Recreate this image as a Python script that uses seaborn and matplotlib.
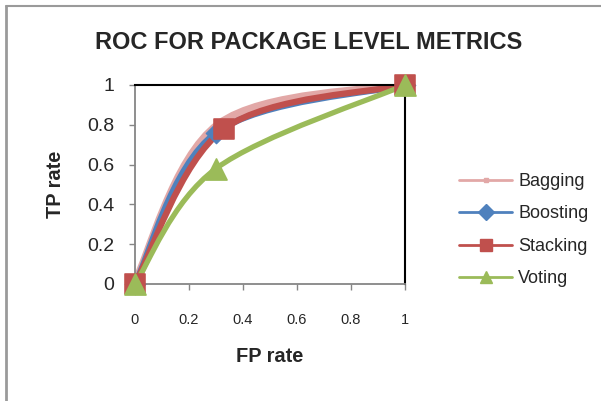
import numpy as np
import pandas as pd
import matplotlib
matplotlib.use("Agg")
import matplotlib.pyplot as plt
import seaborn as sns
from matplotlib.path import Path
from matplotlib.patches import PathPatch
from matplotlib.lines import Line2D

#Values.
methods = ["Bagging", "Boosting", "Stacking", "Voting"]
fp_bagging = [0, 0.31, 1]
tp_bagging = [0, 0.80, 1]
fp_boosting = [0, 0.30, 1]
tp_boosting = [0, 0.76, 1]
fp_stacking = [0, 0.33, 1]
tp_stacking = [0, 0.78, 1]
fp_voting = [0, 0.30, 1]
tp_voting = [0, 0.58, 1]
x_ticks = [0, 0.2, 0.4, 0.6, 0.8, 1]
y_ticks = [0, 0.2, 0.4, 0.6, 0.8, 1]
x_tick_labels = ["0", "0.2", "0.4", "0.6", "0.8", "1"]
y_tick_labels = ["0", "0.2", "0.4", "0.6", "0.8", "1"]

colors = {"Bagging": "#E2A8A7", "Boosting": "#4F81BD", "Stacking": "#C0504D", "Voting": "#9BBB59"}
markers = {"Bagging": "s", "Boosting": "D", "Stacking": "s", "Voting": "^"}
line_w = {"Bagging": 6.5, "Boosting": 4.5, "Stacking": 4.5, "Voting": 3.8}
marker_s = {"Bagging": 0, "Boosting": 110, "Stacking": 210, "Voting": 230}

df = pd.concat([
    pd.DataFrame({"fp": fp_bagging, "tp": tp_bagging, "method": "Bagging"}),
    pd.DataFrame({"fp": fp_boosting, "tp": tp_boosting, "method": "Boosting"}),
    pd.DataFrame({"fp": fp_stacking, "tp": tp_stacking, "method": "Stacking"}),
    pd.DataFrame({"fp": fp_voting, "tp": tp_voting, "method": "Voting"}),
])

#Excel-style smoothed line (bezier through the points).
def smooth_path(xs, ys):
    pts = np.column_stack([xs, ys]).astype(float)
    n = len(pts)
    verts = [pts[0]]
    codes = [Path.MOVETO]
    for i in range(n - 1):
        p_prev = pts[max(i - 1, 0)]
        p0 = pts[i]
        p1 = pts[i + 1]
        p_next = pts[min(i + 2, n - 1)]
        c1 = p0 + (p1 - p_prev) / 6
        c2 = p1 - (p_next - p0) / 6
        verts += [c1, c2, p1]
        codes += [Path.CURVE4] * 3
    return Path(verts, codes)

sns.set_style("white")
plt.rcParams['font.family'] = ['Liberation Sans', 'DejaVu Sans']

fig = plt.figure(figsize=(6.01, 4.01), dpi=100)
ax = fig.add_axes([0.2246, 0.2918, 0.4494, 0.4963])

for m in methods:
    sub = df[df["method"] == m]
    patch = PathPatch(smooth_path(sub["fp"], sub["tp"]), facecolor="none",
                      edgecolor=colors[m], lw=line_w[m], capstyle="round", joinstyle="round", zorder=2)
    ax.add_patch(patch)
    if marker_s[m] > 0:
        sns.scatterplot(data=sub, x="fp", y="tp", marker=markers[m], color=colors[m],
                        edgecolor=colors[m], s=marker_s[m], ax=ax, zorder=3, legend=False, clip_on=False)

ax.set_xlim(0, 1)
ax.set_ylim(0, 1)
ax.set_xticks(x_ticks)
ax.set_xticklabels(x_tick_labels, fontsize=10.5)
ax.set_yticks(y_ticks)
ax.set_yticklabels(y_tick_labels, fontsize=14)
ax.tick_params(axis="x", direction="out", length=4, width=1, color="#868686", pad=17)
ax.tick_params(axis="y", direction="out", length=4, width=1, color="#868686", pad=11)
ax.tick_params(bottom=True, left=True)

for side in ["left", "bottom"]:
    ax.spines[side].set_color("#868686")
    ax.spines[side].set_linewidth(1.3)
for side in ["top", "right"]:
    ax.spines[side].set_color("black")
    ax.spines[side].set_linewidth(1.5)
    ax.spines[side].set_visible(True)

ax.set_xlabel("FP rate", fontsize=14.4, fontweight="bold", labelpad=14)
ax.set_ylabel("TP rate", fontsize=14.4, fontweight="bold", labelpad=16)
fig.text(0.513, 0.895, "ROC FOR PACKAGE LEVEL METRICS", fontsize=17, fontweight="bold",
         ha="center", va="center")

handles = []
for m in methods:
    handles.append(Line2D([0], [0], color=colors[m], lw=2, marker=markers[m],
                          markersize=8 if m != "Bagging" else 3, markerfacecolor=colors[m],
                          markeredgecolor=colors[m]))
fig.legend(handles, methods, loc="center left", bbox_to_anchor=(0.737, 0.426), frameon=False,
           fontsize=13, handlelength=2.95, labelspacing=0.86, handletextpad=0.33)

#Outer chart frame (left and top edges are visible in the reference).
fig.add_artist(Line2D([0.01, 0.01], [0, 0.985], color="#9a9a9a", lw=2))
fig.add_artist(Line2D([0.01, 1], [0.985, 0.985], color="#9a9a9a", lw=1.5))

fig.savefig("out.png", dpi=100)
